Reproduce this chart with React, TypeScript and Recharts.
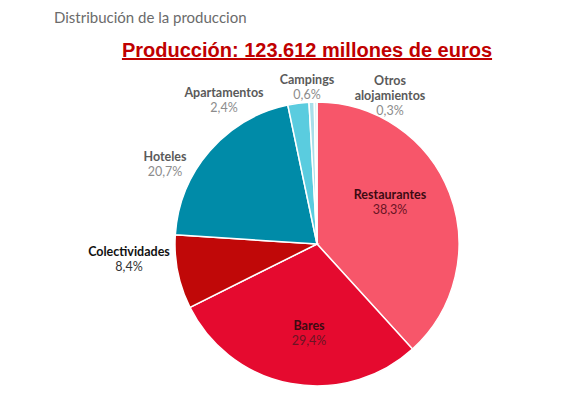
import React from "react";
import { PieChart, Pie, Cell } from "recharts";

const categories = [
  "Restaurantes",
  "Bares",
  "Colectividades",
  "Hoteles",
  "Apartamentos",
  "Campings",
  "Otros alojamientos",
];
const values = [38.3, 29.4, 8.4, 20.7, 2.4, 0.6, 0.3];
const colors = ["#F7566A", "#E50A2F", "#C00808", "#008BA8", "#5ACCDF", "#A8DEEA", "#D6EFF5"];
const subtitle = "Distribución de la produccion";
const title = "Producción: 123.612 millones de euros";

const data = categories.map((name, i) => ({ name, value: values[i] }));

// label placement relative to pie centre (dx, dy) and text style
const labelPlacement = [
  { dx: 73, dy: -42, nameColor: "#3d0a12", pctColor: "#6a1424" },
  { dx: -8, dy: 89, nameColor: "#3d0a12", pctColor: "#6a1424" },
  { dx: -188, dy: 15, nameColor: "#111111", pctColor: "#333333" },
  { dx: -152, dy: -80, nameColor: "#5a5a5a", pctColor: "#8c8c8c" },
  { dx: -93, dy: -144, nameColor: "#5a5a5a", pctColor: "#8c8c8c" },
  { dx: -10, dy: -157, nameColor: "#5a5a5a", pctColor: "#8c8c8c" },
  { dx: 73, dy: -149, nameColor: "#5a5a5a", pctColor: "#8c8c8c" },
];

const fmt = (v: number) => v.toFixed(1).replace(".", ",") + "%";

const renderLabel = (props: any) => {
  const { cx, cy, index, name, value } = props;
  const p = labelPlacement[index];
  const x = cx + p.dx;
  const y = cy + p.dy;
  const words = name === "Otros alojamientos" ? ["Otros", "alojamientos"] : [name];
  const lh = 15;
  const total = words.length + 1;
  const startY = y - ((total - 1) * lh) / 2;
  return (
    <g>
      {words.map((w: string, k: number) => (
        <text
          key={k}
          x={x}
          y={startY + k * lh}
          textAnchor="middle"
          dominantBaseline="central"
          fontFamily="Lato, 'DejaVu Sans', sans-serif"
          fontWeight="bold"
          fontSize={12.5}
          fill={p.nameColor}
        >
          {w}
        </text>
      ))}
      <text
        x={x}
        y={startY + words.length * lh}
        textAnchor="middle"
        dominantBaseline="central"
        fontFamily="Lato, 'DejaVu Sans', sans-serif"
        fontSize={12.5}
        fill={p.pctColor}
      >
        {fmt(value)}
      </text>
    </g>
  );
};

export default function App() {
  return (
    <div style={{ position: "absolute", left: 0, top: 0, width: 564, height: 393, background: "#ffffff" }}>
      <div
        style={{
          position: "absolute",
          left: 54,
          top: 8,
          fontFamily: "Lato, 'DejaVu Sans', sans-serif",
          fontSize: 15,
          color: "#6b6b6b",
          whiteSpace: "nowrap",
        }}
      >
        {subtitle}
      </div>
      <div
        style={{
          position: "absolute",
          left: 0,
          width: 614,
          top: 39,
          textAlign: "center",
          fontFamily: "'Liberation Sans', Arial, sans-serif",
          fontWeight: "bold",
          fontSize: 20,
          color: "#C00000",
          textDecoration: "underline",
          whiteSpace: "nowrap",
        }}
      >
        {title}
      </div>
      <div style={{ position: "absolute", left: 0, top: 0 }}>
        <PieChart width={564} height={393} margin={{ top: 0, right: 0, bottom: 0, left: 0 }}>
          <Pie
            data={data}
            dataKey="value"
            nameKey="name"
            cx={317}
            cy={244}
            outerRadius={142}
            startAngle={90}
            endAngle={-270}
            stroke="#ffffff"
            strokeWidth={1.5}
            label={renderLabel}
            labelLine={false}
            isAnimationActive={false}
          >
            {data.map((d, i) => (
              <Cell key={d.name} fill={colors[i]} />
            ))}
          </Pie>
        </PieChart>
      </div>
    </div>
  );
}
